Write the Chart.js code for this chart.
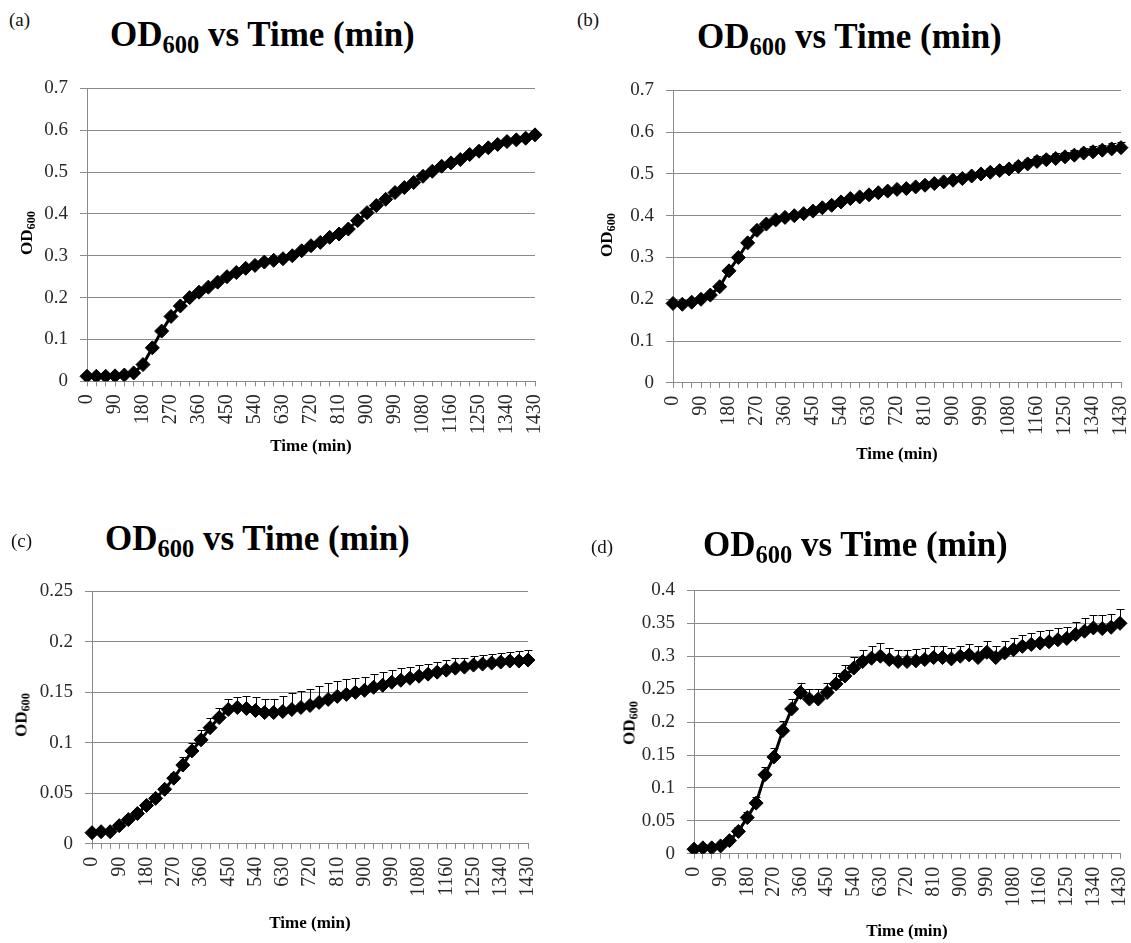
<!DOCTYPE html>
<html>
<head>
<meta charset="utf-8">
<script src="https://cdn.jsdelivr.net/npm/chart.js@4.4.1/dist/chart.umd.min.js"></script>
<style>
html,body{margin:0;padding:0;background:#fff;width:1131px;height:943px;overflow:hidden;position:relative;font-family:"Liberation Serif","Times New Roman",serif;}
canvas{position:absolute;}
.letter{position:absolute;font-size:19px;color:#111;line-height:1;white-space:nowrap;}
.ttl{position:absolute;font-size:35px;font-weight:bold;color:#000;white-space:nowrap;line-height:1;}
.ttl sub{font-size:0.7em;vertical-align:-0.3em;line-height:0;}
.ylab{position:absolute;font-size:17px;font-weight:bold;color:#000;white-space:nowrap;line-height:1;transform:translate(-50%,-50%) rotate(-90deg);}
.ylab sub{font-size:0.72em;vertical-align:-0.25em;line-height:0;}
</style>
</head>
<body>
<div id="root"></div>
<script>
// ---- data ----
const times = [0,30,60,90,120,150,180,210,240,270,300,330,360,390,420,450,480,510,540,570,600,630,660,690,720,750,780,810,840,870,900,930,960,990,1020,1050,1080,1105,1130,1160,1190,1220,1250,1280,1310,1340,1370,1400,1430];

const odA = [0.012,0.012,0.012,0.013,0.015,0.02,0.04,0.08,0.12,0.155,0.18,0.2,0.213,0.225,0.237,0.25,0.26,0.27,0.277,0.285,0.289,0.293,0.3,0.312,0.324,0.332,0.344,0.352,0.364,0.384,0.403,0.42,0.435,0.451,0.463,0.475,0.49,0.502,0.514,0.522,0.53,0.542,0.55,0.558,0.566,0.573,0.577,0.581,0.589];
const errA = [0.003,0.003,0.003,0.003,0.003,0.004,0.005,0.006,0.008,0.008,0.007,0.006,0.006,0.006,0.006,0.006,0.007,0.008,0.008,0.008,0.008,0.008,0.008,0.008,0.008,0.008,0.008,0.008,0.008,0.008,0.008,0.007,0.007,0.007,0.007,0.007,0.007,0.007,0.007,0.007,0.007,0.006,0.006,0.006,0.006,0.006,0.006,0.006,0.006];

const odB = [0.19,0.188,0.193,0.2,0.21,0.23,0.268,0.3,0.335,0.365,0.38,0.39,0.396,0.4,0.405,0.411,0.419,0.425,0.433,0.441,0.445,0.45,0.455,0.459,0.463,0.465,0.469,0.473,0.477,0.481,0.485,0.489,0.495,0.5,0.504,0.508,0.512,0.518,0.524,0.53,0.534,0.537,0.541,0.545,0.55,0.553,0.557,0.56,0.563];
const errB = [0.004,0.004,0.004,0.004,0.005,0.005,0.006,0.006,0.006,0.006,0.005,0.005,0.005,0.005,0.005,0.005,0.006,0.006,0.006,0.006,0.006,0.006,0.006,0.006,0.006,0.006,0.007,0.007,0.007,0.008,0.008,0.008,0.009,0.009,0.01,0.01,0.01,0.011,0.011,0.012,0.012,0.012,0.012,0.013,0.013,0.013,0.013,0.014,0.014];

const odC = [0.011,0.012,0.012,0.018,0.024,0.03,0.038,0.045,0.054,0.065,0.078,0.092,0.103,0.115,0.125,0.133,0.135,0.134,0.132,0.13,0.13,0.131,0.133,0.135,0.137,0.14,0.143,0.146,0.148,0.15,0.152,0.155,0.157,0.16,0.162,0.164,0.166,0.168,0.17,0.172,0.174,0.175,0.177,0.178,0.179,0.18,0.181,0.181,0.182];
const errC = [0.002,0.002,0.002,0.002,0.002,0.003,0.003,0.003,0.004,0.005,0.008,0.008,0.01,0.01,0.01,0.01,0.01,0.012,0.013,0.013,0.013,0.015,0.016,0.016,0.016,0.016,0.016,0.015,0.015,0.014,0.013,0.013,0.013,0.012,0.012,0.011,0.011,0.01,0.01,0.01,0.01,0.009,0.009,0.009,0.009,0.009,0.009,0.01,0.01];

const odD = [0.007,0.009,0.009,0.012,0.02,0.034,0.055,0.077,0.12,0.147,0.187,0.22,0.245,0.235,0.235,0.245,0.258,0.27,0.282,0.292,0.297,0.3,0.295,0.292,0.292,0.293,0.295,0.298,0.298,0.296,0.3,0.302,0.298,0.306,0.298,0.305,0.31,0.315,0.318,0.32,0.322,0.325,0.327,0.333,0.338,0.343,0.342,0.344,0.35];
const errD = [0.003,0.003,0.003,0.004,0.005,0.006,0.008,0.01,0.012,0.013,0.015,0.015,0.015,0.015,0.015,0.015,0.016,0.016,0.017,0.018,0.018,0.02,0.018,0.018,0.018,0.018,0.017,0.017,0.017,0.016,0.016,0.016,0.017,0.017,0.018,0.018,0.018,0.018,0.018,0.018,0.018,0.018,0.018,0.019,0.02,0.02,0.02,0.02,0.022];

const yMaxes = [0.7, 0.7, 0.25, 0.4];
const ySteps = [0.1, 0.1, 0.05, 0.05];
const panelLetters = ['(a)', '(b)', '(c)', '(d)'];
const titleText = 'vs Time (min)';
const xTitle = 'Time (min)';

// ---- layout (page coordinates) ----
const layout = [
  {l:87,  t:85,  r:542,  b:381.5, xt:447, title:[110,17], letter:[9,10],   ylab:[26,233]},
  {l:673, t:87,  r:1128, b:383,   xt:455, title:[697,19], letter:[577,10], ylab:[606,235]},
  {l:92,  t:588, r:535,  b:844,   xt:924, title:[105,521],letter:[11,531], ylab:[21,715]},
  {l:694, t:587, r:1127, b:854,   xt:932, title:[703,527],letter:[591,537],ylab:[629,723]}
];

const series = [[odA, errA], [odB, errB], [odC, errC], [odD, errD]];

const errorBars = {
  id: 'errorBars',
  afterDatasetsDraw(chart) {
    const errs = chart.options.plugins.errorBars.errors;
    const vals = chart.data.datasets[0].data;
    const {ctx} = chart;
    const x = chart.scales.x, y = chart.scales.y;
    ctx.save();
    ctx.strokeStyle = '#000';
    ctx.lineWidth = 1;
    vals.forEach((v, i) => {
      const px = Math.round(x.getPixelForValue(i)) + 0.5;
      const y0 = y.getPixelForValue(v);
      const y1 = Math.round(y.getPixelForValue(v + errs[i])) + 0.5;
      ctx.beginPath();
      ctx.moveTo(px, y0); ctx.lineTo(px, y1);
      ctx.moveTo(px - 4, y1); ctx.lineTo(px + 4, y1);
      ctx.stroke();
    });
    ctx.restore();
  }
};

const root = document.getElementById('root');
const PADL = 5, PADT = 20, PADR = 25, YW = 80, XT_OFF = 17 * 1.2 / 2 + 4;

layout.forEach((L, k) => {
  const [vals, errs] = series[k];
  const xh = L.xt + XT_OFF - L.b;
  const cw = (L.r - L.l) + PADL + YW + PADR;
  const ch = (L.b - L.t) + PADT + xh;
  const cv = document.createElement('canvas');
  cv.width = Math.round(cw); cv.height = Math.round(ch);
  cv.style.left = (L.l - PADL - YW) + 'px';
  cv.style.top = (L.t - PADT) + 'px';
  cv.style.width = Math.round(cw) + 'px'; cv.style.height = Math.round(ch) + 'px';
  root.appendChild(cv);

  const letter = document.createElement('div');
  letter.className = 'letter'; letter.textContent = panelLetters[k];
  letter.style.left = L.letter[0] + 'px'; letter.style.top = L.letter[1] + 'px';
  root.appendChild(letter);

  const ttl = document.createElement('div');
  ttl.className = 'ttl';
  ttl.innerHTML = 'OD<sub>600</sub> ' + titleText;
  ttl.style.left = L.title[0] + 'px'; ttl.style.top = L.title[1] + 'px';
  root.appendChild(ttl);

  const yl = document.createElement('div');
  yl.className = 'ylab';
  yl.innerHTML = 'OD<sub>600</sub>';
  yl.style.left = L.ylab[0] + 'px'; yl.style.top = L.ylab[1] + 'px';
  root.appendChild(yl);

  new Chart(cv, {
    type: 'line',
    data: {
      labels: times.map(String),
      datasets: [{
        data: vals,
        borderColor: '#000', backgroundColor: '#000', borderWidth: 3,
        pointStyle: 'rectRot', pointRadius: 7,
        pointBackgroundColor: '#000', pointBorderColor: '#000', pointBorderWidth: 1,
        tension: 0
      }]
    },
    options: {
      responsive: false, animation: false, devicePixelRatio: 1,
      layout: {padding: {left: PADL, top: PADT, right: PADR, bottom: 0}},
      plugins: {legend: {display: false}, tooltip: {enabled: false}, title: {display: false},
                errorBars: {errors: errs}},
      scales: {
        x: {
          type: 'category', offset: false,
          grid: {display: true, drawOnChartArea: false, drawTicks: true, tickLength: 5, color: '#8a8a8a', lineWidth: 1},
          border: {display: true, color: '#8a8a8a', width: 1},
          ticks: {autoSkip: false, maxRotation: 90, minRotation: 90, padding: 8, color: '#2a2a2a',
                  font: {family: 'Liberation Serif', size: 20},
                  callback: (v, i) => (i % 3 === 0 ? String(times[i]) : '')},
          title: {display: true, text: xTitle, color: '#000', padding: {top: 4, bottom: 4},
                  font: {family: 'Liberation Serif', size: 17, weight: 'bold'}},
          afterFit: s => { s.height = xh; }
        },
        y: {
          min: 0, max: yMaxes[k],
          grid: {color: '#8a8a8a', lineWidth: 1, drawTicks: true, tickLength: 7},
          border: {display: true, color: '#8a8a8a', width: 1},
          ticks: {stepSize: ySteps[k], padding: 12, color: '#2a2a2a',
                  font: {family: 'Liberation Serif', size: 19},
                  callback: v => String(+(+v).toFixed(2))},
          afterFit: s => { s.width = YW; }
        }
      }
    },
    plugins: [errorBars]
  });
});
</script>
</body>
</html>
